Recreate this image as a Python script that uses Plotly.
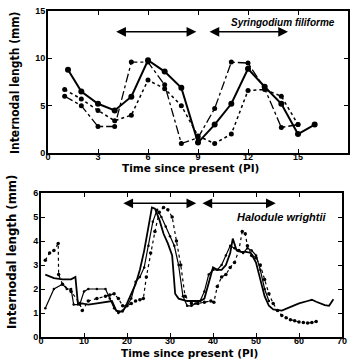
import plotly.graph_objects as go

# ---------------- Top panel: Syringodium filiforme ----------------
top_x_solid = [1.2, 2, 3, 4, 5, 6, 7, 8, 9, 10, 11, 12, 13, 14, 15, 16]
top_y_solid = [8.8, 6.5, 5.2, 4.5, 5.95, 9.8, 8.6, 6.9, 1.1, 3.0, 5.2, 8.9, 7.0, 5.2, 2.0, 3.0]

top_x_dashdot = [1, 2, 3, 4, 5, 6, 7, 8, 9, 10, 11, 12, 13, 14, 15]
top_y_dashdot = [6.0, 5.0, 2.8, 2.8, 9.6, 9.6, 7.2, 1.0, 1.6, 4.7, 9.6, 9.5, 6.8, 2.7, 3.0]

top_x_dot = [1, 2, 3, 4, 5, 6, 7, 8, 9, 10, 11, 12, 13, 14, 15]
top_y_dot = [6.7, 5.7, 4.5, 3.4, 4.0, 7.7, 6.8, 5.0, 1.8, 1.0, 2.0, 6.6, 6.7, 6.0, 3.0]

top_arrows = [(4.0, 8.9), (9.6, 14.4)]
top_arrow_y = 12.8
top_x_ticks = [0, 3, 6, 9, 12, 15, 18]
top_y_ticks = [0, 5, 10, 15]

# ---------------- Bottom panel: Halodule wrightii ----------------
bot_x_a = [1, 3, 5, 7, 8, 8.6, 9.5, 11, 13, 15, 16.5, 17.5, 19, 20, 21, 22, 23, 24, 25, 25.8,
           26.5, 27.5, 28.5, 29.5, 30.5, 31.2, 32, 34, 36, 37, 38, 39, 40, 41, 42, 43, 44,
           44.6, 45.5, 46.5, 47.7, 48.8, 50, 51, 52, 53, 54, 56, 58, 60, 62, 63, 64, 66, 67, 68]
bot_y_a = [2.6, 2.45, 2.4, 2.4, 2.5, 1.35, 1.4, 1.35, 1.4, 1.45, 1.5, 1.1, 1.05, 1.4, 1.8, 2.2,
           2.8, 3.6, 4.6, 5.4, 5.35, 4.9, 4.3, 3.9, 3.4, 1.8, 1.6, 1.5, 1.5, 1.5, 1.6, 2.3, 2.9,
           2.8, 2.8, 3.0, 3.5, 4.1, 3.6, 3.55, 3.55, 3.5, 3.1, 2.4, 1.7, 1.3, 1.15, 1.1, 1.25,
           1.4, 1.5, 1.55, 1.47, 1.33, 1.3, 1.57]

bot_x_b = [1, 3, 5, 6, 7, 7.6, 9, 10, 11, 13, 15, 16, 17, 18, 19, 20, 21, 22, 23, 24, 25, 26,
           27, 28, 29, 30, 31, 32, 33, 34, 35, 36, 37, 38, 39, 40, 41, 42, 43, 44, 45, 46, 47,
           48, 49, 50, 51, 52, 53]
bot_y_b = [1.2, 2.0, 2.2, 2.0, 2.0, 1.35, 1.35, 1.9, 2.0, 2.0, 2.0, 1.6, 1.2, 1.0, 1.1, 1.3,
           1.6, 2.3, 2.5, 2.9, 3.8, 4.8, 5.3, 5.0, 4.6, 4.2, 3.8, 3.0, 1.7, 1.3, 1.3, 1.4, 1.5,
           1.9, 2.6, 2.8, 2.8, 3.0, 3.4, 3.8, 3.7, 3.6, 3.5, 3.7, 3.6, 3.4, 2.8, 2.0, 1.5]

bot_x_c = [1, 2, 3, 4, 4.1, 5, 7, 9, 9.6, 11, 13, 15, 16, 17, 18, 19, 20, 21, 22, 23, 23.8,
           24.5, 25.5, 26.5, 27.5, 28.5, 29.5, 30.5, 31.5, 32.5, 33.5, 35, 36.5, 38, 39.5,
           40.2, 41, 42, 43, 44, 45, 46, 46.8, 47.5, 48, 49, 50, 51, 52, 53, 54, 55, 56, 57,
           58, 59, 60, 61, 62, 63, 64]
bot_y_c = [3.2, 3.5, 3.6, 3.9, 2.6, 2.2, 1.9, 1.4, 1.1, 1.5, 1.6, 1.7, 1.75, 1.8, 1.6, 1.3,
           1.3, 1.4, 1.5, 1.55, 1.6, 2.5, 3.5, 4.4, 5.2, 5.4, 5.3, 5.0, 4.0, 3.0, 1.7, 1.4,
           1.4, 1.45, 1.5, 1.45, 2.1, 2.5, 2.6, 2.9, 3.1, 3.6, 4.4, 4.3, 3.8, 3.4, 3.3, 3.0,
           2.4, 1.8, 1.4, 1.1, 0.9, 0.8, 0.72, 0.68, 0.62, 0.6, 0.58, 0.6, 0.65]

bot_arrows = [(18.8, 36.1), (37.2, 54.6)]
bot_arrow_y = 5.57
bot_x_ticks = [0, 10, 20, 30, 40, 50, 60, 70]
bot_y_ticks = [0, 1, 2, 3, 4, 5, 6]

W, H = 352, 363
FONT = "Liberation Sans"

fig = go.Figure()

# top traces
fig.add_trace(go.Scatter(x=top_x_dashdot, y=top_y_dashdot, mode="lines+markers",
                         line=dict(color="black", width=1.3, dash="dashdot"),
                         marker=dict(color="black", size=5), xaxis="x", yaxis="y"))
fig.add_trace(go.Scatter(x=top_x_dot, y=top_y_dot, mode="lines+markers",
                         line=dict(color="black", width=1.5, dash="dot"),
                         marker=dict(color="black", size=5), xaxis="x", yaxis="y"))
fig.add_trace(go.Scatter(x=top_x_solid, y=top_y_solid, mode="lines+markers",
                         line=dict(color="black", width=2),
                         marker=dict(color="black", size=6), xaxis="x", yaxis="y"))

# bottom traces
fig.add_trace(go.Scatter(x=bot_x_c, y=bot_y_c, mode="lines+markers",
                         line=dict(color="black", width=1.2, dash="dot"),
                         marker=dict(color="black", size=3.5), xaxis="x2", yaxis="y2"))
fig.add_trace(go.Scatter(x=bot_x_b, y=bot_y_b, mode="lines+markers",
                         line=dict(color="black", width=1.2),
                         marker=dict(color="black", size=2.5), xaxis="x2", yaxis="y2"))
fig.add_trace(go.Scatter(x=bot_x_a, y=bot_y_a, mode="lines",
                         line=dict(color="black", width=1.8),
                         xaxis="x2", yaxis="y2"))

annotations = []
for (a0, a1) in top_arrows:
    annotations.append(dict(x=a1, y=top_arrow_y, ax=a0, ay=top_arrow_y, xref="x", yref="y",
                            axref="x", ayref="y", showarrow=True, arrowhead=2,
                            arrowside="end+start", arrowsize=1.3, arrowwidth=1.5,
                            arrowcolor="black", text=""))
for (a0, a1) in bot_arrows:
    annotations.append(dict(x=a1, y=bot_arrow_y, ax=a0, ay=bot_arrow_y, xref="x2", yref="y2",
                            axref="x2", ayref="y2", showarrow=True, arrowhead=2,
                            arrowside="end+start", arrowsize=1.3, arrowwidth=1.5,
                            arrowcolor="black", text=""))

annotations.append(dict(x=14.1, y=13.8, xref="x", yref="y", showarrow=False,
                        text="<b><i>Syringodium filiforme</i></b>",
                        font=dict(family=FONT, size=10, color="black")))
annotations.append(dict(x=56, y=5.0, xref="x2", yref="y2", showarrow=False,
                        text="<b><i>Halodule wrightii</i></b>",
                        font=dict(family=FONT, size=11, color="black")))

# axis titles
title_font = dict(family="DejaVu Sans", size=10.5, color="black")
annotations.append(dict(x=190 / W, y=1 - 168 / H, xref="paper", yref="paper", showarrow=False,
                        xanchor="center", yanchor="middle",
                        text="<b>Time since present (PI)</b>", font=title_font))
annotations.append(dict(x=189 / W, y=1 - 353 / H, xref="paper", yref="paper", showarrow=False,
                        xanchor="center", yanchor="middle",
                        text="<b>Time since present (PI)</b>", font=title_font))
annotations.append(dict(x=15 / W, y=1 - 83 / H, xref="paper", yref="paper", showarrow=False,
                        xanchor="center", yanchor="middle",
                        text="Internodal length (mm)", textangle=-90,
                        font=dict(family="DejaVu Sans Condensed", size=12, color="black",
                                  weight="bold")))
annotations.append(dict(x=11 / W, y=1 - 252 / H, xref="paper", yref="paper", showarrow=False,
                        xanchor="center", yanchor="middle",
                        text="Internodal length (mm)", textangle=-90,
                        font=dict(family="DejaVu Sans Condensed", size=13, color="black",
                                  weight="bold")))

axis_common = dict(showgrid=False, zeroline=False, showline=True, linecolor="black",
                   linewidth=2, mirror="ticks", ticks="inside", ticklen=4, tickwidth=1.2,
                   tickcolor="black", automargin=False,
                   tickfont=dict(family=FONT, size=9, color="black", weight="bold"))

fig.update_layout(
    width=W, height=H, margin=dict(l=0, r=0, t=0, b=0),
    paper_bgcolor="white", plot_bgcolor="white", showlegend=False,
    xaxis=dict(domain=[48 / W, 348 / W], range=[0, 18], tickvals=top_x_ticks,
               anchor="y", ticklabelstandoff=-6, **axis_common),
    yaxis=dict(domain=[1 - 153 / H, 1 - 11 / H], range=[0, 15], tickvals=top_y_ticks,
               anchor="x", ticklabelstandoff=-1, **axis_common),
    xaxis2=dict(domain=[41 / W, 342 / W], range=[0, 70], tickvals=bot_x_ticks,
                anchor="y2", ticklabelstandoff=-6, **axis_common),
    yaxis2=dict(domain=[1 - 337 / H, 1 - 193 / H], range=[0, 6], tickvals=bot_y_ticks,
                anchor="x2", ticklabelstandoff=-1, **axis_common),
    annotations=annotations,
)

fig.write_html("out.html")
